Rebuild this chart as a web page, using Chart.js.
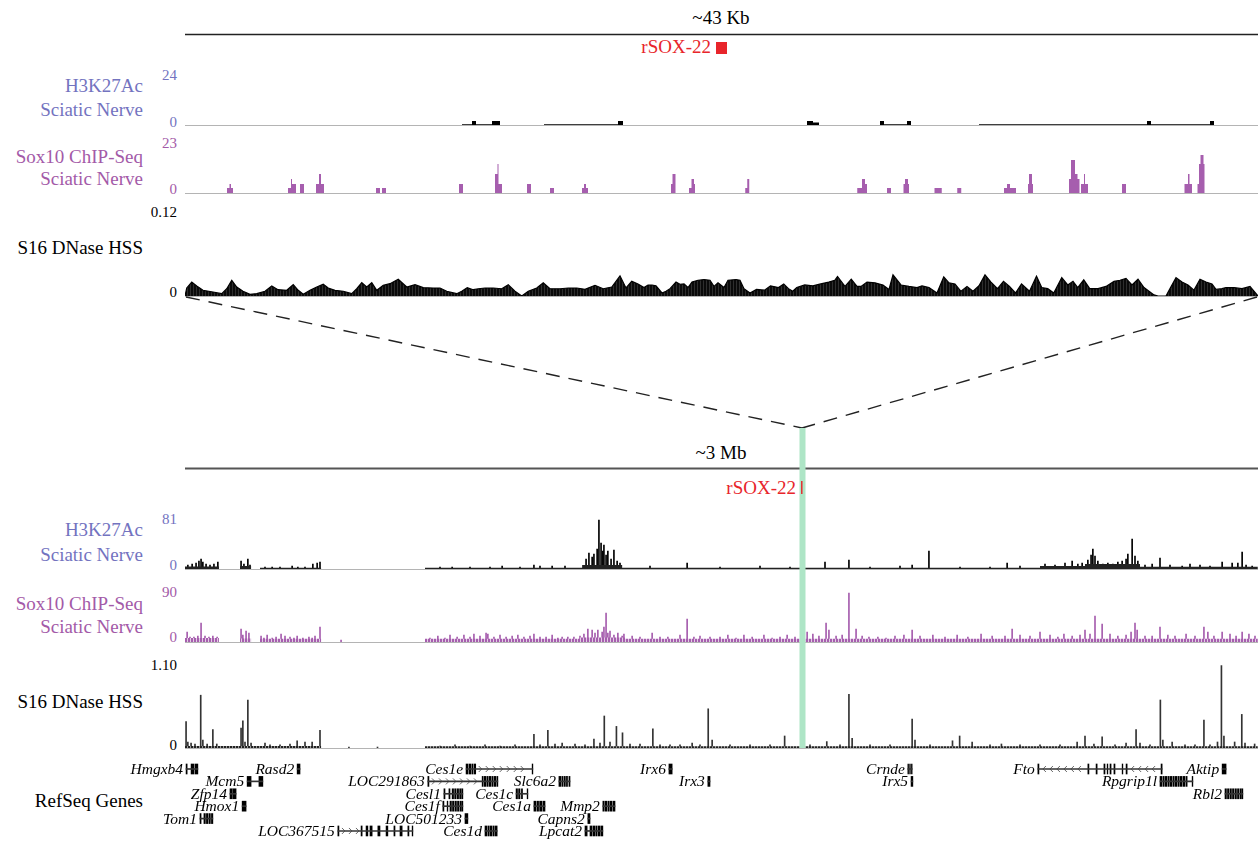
<!DOCTYPE html>
<html>
<head>
<meta charset="utf-8">
<title>rSOX-22 locus</title>
<script src="https://cdn.jsdelivr.net/npm/chart.js@4.4.1/dist/chart.umd.min.js"></script>
<style>
  body { margin: 0; background: #fff; }
  #page { position: relative; width: 1258px; height: 841px; overflow: hidden;
          font-family: "Liberation Serif", "DejaVu Serif", serif; color: #000; }
  .lbl { position: absolute; left: 0; width: 143px; text-align: right; font-size: 19px; line-height: 22px; white-space: nowrap; }
  .tick { position: absolute; left: 0; width: 177px; text-align: right; font-size: 15px; line-height: 18px; }
  .center { position: absolute; left: 521px; width: 400px; text-align: center; font-size: 19px; line-height: 22px; }
  .red { position: absolute; left: 0; text-align: right; font-size: 19px; line-height: 22px; color: #e8252b; }
  .blue { color: #7373bf; }
  .purple { color: #a35aa8; }
  .base { position: absolute; left: 185px; width: 1073px; height: 1px; background: #b4b4b4; }
  canvas { position: absolute; z-index: 1; }
  #overlay { position: absolute; left: 0; top: 0; z-index: 2; }
  #rsoxLocus { z-index: 3; }
</style>
</head>
<body>
<div id="page">
  <div class="center" style="top:7px">~43 Kb</div>
  <div class="red" style="width:711px;top:36px">rSOX-22</div>

  <div class="lbl blue" style="top:75px">H3K27Ac</div>
  <div class="lbl blue" style="top:99px">Sciatic Nerve</div>
  <div class="tick blue" style="top:66px">24</div>
  <div class="tick blue" style="top:113px">0</div>

  <div class="lbl purple" style="top:146px">Sox10 ChIP-Seq</div>
  <div class="lbl purple" style="top:168px">Sciatic Nerve</div>
  <div class="tick purple" style="top:134px">23</div>
  <div class="tick purple" style="top:180px">0</div>

  <div class="tick" style="top:203px">0.12</div>
  <div class="lbl" style="top:237px">S16 DNase HSS</div>
  <div class="tick" style="top:283px">0</div>

  <div class="center" style="top:442px">~3 Mb</div>
  <div class="red" style="width:796px;top:477px">rSOX-22</div>

  <div class="lbl blue" style="top:519px">H3K27Ac</div>
  <div class="lbl blue" style="top:544px">Sciatic Nerve</div>
  <div class="tick blue" style="top:510px">81</div>
  <div class="tick blue" style="top:556px">0</div>

  <div class="lbl purple" style="top:593px">Sox10 ChIP-Seq</div>
  <div class="lbl purple" style="top:616px">Sciatic Nerve</div>
  <div class="tick purple" style="top:583px">90</div>
  <div class="tick purple" style="top:628px">0</div>

  <div class="tick" style="top:656px">1.10</div>
  <div class="lbl" style="top:691px">S16 DNase HSS</div>
  <div class="tick" style="top:736px">0</div>

  <div class="lbl" style="top:790px">RefSeq Genes</div>

  <div class="base" style="top:125px"></div>
  <div class="base" style="top:193px"></div>
  <div class="base" style="top:296px"></div>
  <div class="base" style="top:569px"></div>
  <div class="base" style="top:642px"></div>
  <div class="base" style="top:748px"></div>

  <canvas id="rsoxTop" width="1073" height="12" style="left:185px;top:42px"></canvas>
  <canvas id="h3Top" width="1073" height="55" style="left:185px;top:70px"></canvas>
  <canvas id="soxTop" width="1073" height="55" style="left:185px;top:138px"></canvas>
  <canvas id="dnaseTop" width="1073" height="90" style="left:185px;top:206px"></canvas>
  <canvas id="rsoxLocus" width="1073" height="13" style="left:185px;top:481px"></canvas>
  <canvas id="h3Locus" width="1073" height="55" style="left:185px;top:514px"></canvas>
  <canvas id="soxLocus" width="1073" height="55" style="left:185px;top:587px"></canvas>
  <canvas id="dnaseLocus" width="1073" height="88" style="left:185px;top:660px"></canvas>
  <canvas id="genes" width="1258" height="86" style="left:0;top:755px"></canvas>

  <svg id="overlay" width="1258" height="841">
    <line x1="185" y1="34.5" x2="1258" y2="34.5" stroke="#222" stroke-width="1.6"/>
    <line x1="185" y1="468.5" x2="1258" y2="468.5" stroke="#555" stroke-width="2"/>
    <line x1="186" y1="297" x2="802" y2="428" stroke="#222" stroke-width="1.4" stroke-dasharray="14 9"/>
    <line x1="1257" y1="297" x2="802" y2="428" stroke="#222" stroke-width="1.4" stroke-dasharray="14 9"/>
    <rect x="799.5" y="428" width="6" height="320" fill="#aee5c6"/>
  </svg>
</div>

<script>
// window widths, in kb
const ZOOM_SPAN_KB = 42.92;
const LOCUS_SPAN_KB = 3004.4;

// rSOX-22 element: [kb, on/off] steps
const rsoxZoom = [[0, 0], [21.24, 1], [21.68, 0], [42.92, 0]];
const rsoxLocus = [[0, 0], [1725, 1], [1729, 0], [3004.4, 0]];

// ~43 Kb window, step signals: [start kb, value] held until the next start
const h3Zoom = [
  [0, 0], [11.08, 0.35], [11.48, 1.7], [11.64, 0.35], [12.28, 1.7], [12.6, 0],
  [14.36, 0.35], [17.32, 1.7], [17.52, 0], [24.88, 1.7], [25.12, 1.1], [25.36, 0],
  [27.8, 1.7], [27.96, 0.35], [28.88, 1.7], [29.04, 0], [31.76, 0.35], [38.48, 1.7],
  [38.64, 0.35], [41.0, 1.7], [41.16, 0], [42.92, 0]
];

const sox10Zoom = [
  [0, 0],
  [1.68, 2.1], [1.78, 3.8], [1.84, 2.1], [1.92, 0],
  [4.12, 2.1], [4.24, 5.9], [4.28, 3.8], [4.44, 0],
  [4.6, 3.8], [4.76, 0],
  [5.24, 3.8], [5.36, 7.9], [5.44, 3.8], [5.56, 0],
  [7.64, 2.1], [7.8, 0], [7.88, 2.1], [8.04, 0],
  [10.96, 3.8], [11.12, 0],
  [12.4, 7.9], [12.5, 12.1], [12.54, 3.8], [12.68, 0],
  [13.68, 3.8], [13.84, 0],
  [14.6, 2.1], [14.76, 0],
  [15.88, 2.1], [15.96, 3.8], [16.04, 2.1], [16.12, 0],
  [19.44, 3.8], [19.5, 7.9], [19.62, 0],
  [20.16, 2.1], [20.26, 5.9], [20.36, 3.8], [20.4, 0],
  [22.41, 2.1], [22.49, 5.9], [22.57, 0],
  [26.89, 2.1], [27.08, 5.9], [27.2, 3.8], [27.28, 0],
  [28.08, 2.1], [28.24, 0],
  [28.74, 3.8], [28.8, 5.9], [28.92, 3.8], [28.96, 0],
  [29.98, 2.1], [30.27, 0],
  [30.89, 2.1], [31.05, 0],
  [32.76, 2.1], [32.88, 3.8], [33.0, 2.1], [33.24, 0],
  [33.72, 3.8], [33.76, 7.9], [33.88, 3.8], [33.92, 0],
  [35.36, 5.9], [35.44, 13.8], [35.6, 7.9], [35.7, 5.9], [35.78, 0],
  [35.84, 3.8], [35.96, 7.9], [36.0, 3.8], [36.12, 0],
  [37.48, 3.8], [37.64, 0],
  [39.98, 3.8], [40.12, 7.9], [40.18, 3.8], [40.28, 0],
  [40.5, 3.8], [40.56, 12.1], [40.62, 15.9], [40.74, 12.1], [40.78, 0],
  [42.92, 0]
];

// DNase profile over the ~43 Kb window: [kb, signal]
const dnaseZoom = [
  [0, 0], [0.07, 0.0107], [0.27, 0.0187], [0.47, 0.0133], [0.72, 0.0076], [1.12, 0.0053], [1.47, 0.0031], [1.67, 0.0097], [1.87, 0.0209], [2.07, 0.012],
  [2.32, 0.0063], [2.6, 0.0023], [2.87, 0.0031], [3.2, 0.0063], [3.47, 0.0133], [3.72, 0.0084], [4.07, 0.0076], [4.33, 0.0151], [4.53, 0.0076], [4.73, 0.0023],
  [5.0, 0.0076], [5.27, 0.012], [5.53, 0.0156], [5.73, 0.0107], [6.0, 0.0076], [6.33, 0.0063], [6.67, 0.0031], [6.87, 0.0097], [7.07, 0.0177], [7.27, 0.012],
  [7.47, 0.0177], [7.67, 0.0076], [7.93, 0.0143], [8.2, 0.0164], [8.53, 0.0223], [8.87, 0.012], [9.2, 0.0151], [9.53, 0.0111], [9.93, 0.0107], [10.2, 0.0107],
  [10.47, 0.0063], [10.87, 0.0031], [11.07, 0.0063], [11.29, 0.0111], [11.53, 0.0084], [11.73, 0.0097], [12.0, 0.0107], [12.33, 0.0107], [12.67, 0.0097], [12.93, 0.0151],
  [13.2, 0.0063], [13.47, 0], [13.73, 0.0063], [14.07, 0.0107], [14.33, 0.0177], [14.6, 0.0097], [15.0, 0.0097], [15.33, 0.0107], [15.67, 0.0107], [16.0, 0.0089],
  [16.4, 0.0143], [16.73, 0.0097], [17.07, 0.012], [17.4, 0.0267], [17.64, 0.0107], [17.87, 0.0196], [18.12, 0.0161], [18.36, 0.0113], [18.52, 0.0147], [18.68, 0.0147],
  [18.84, 0.0136], [19.08, 0.004], [19.24, 0.0063], [19.4, 0.0098], [19.64, 0.0186], [19.8, 0.0157], [19.96, 0.0161], [20.12, 0.0113], [20.28, 0.0186], [20.52, 0.021],
  [20.76, 0.022], [21.0, 0.021], [21.16, 0.0128], [21.32, 0.0176], [21.56, 0.0113], [21.72, 0.021], [22.04, 0.022], [22.2, 0.021], [22.36, 0.0098], [22.6, 0.004],
  [22.86, 0.0088], [23.18, 0.0078], [23.42, 0.0136], [23.74, 0.0113], [23.95, 0.0161], [24.14, 0.0098], [24.31, 0.0063], [24.47, 0.0113], [24.79, 0.0147], [25.11, 0.0136],
  [25.43, 0.0161], [25.75, 0.0186], [25.99, 0.021], [26.1, 0.026], [26.4, 0.0128], [26.65, 0.0224], [26.88, 0.0128], [27.04, 0.0128], [27.28, 0.0186], [27.6, 0.0176],
  [27.92, 0.0147], [28.16, 0.0088], [28.32, 0.0283], [28.64, 0.0147], [28.96, 0.0128], [29.28, 0.0113], [29.48, 0.0136], [29.76, 0.0113], [30.08, 0.004], [30.35, 0.0254],
  [30.56, 0.0176], [30.8, 0.0161], [31.04, 0.0063], [31.28, 0.0128], [31.52, 0.0063], [31.76, 0.0136], [32.0, 0.0283], [32.24, 0.0186], [32.5, 0.0098], [32.74, 0.0195],
  [32.98, 0.0128], [33.22, 0.004], [33.46, 0.0161], [33.78, 0.0063], [34.06, 0.0264], [34.27, 0.0113], [34.51, 0.0098], [34.75, 0.004], [35.07, 0.0245], [35.31, 0.0147],
  [35.52, 0.0195], [35.71, 0.0113], [35.95, 0.0216], [36.19, 0.0098], [36.52, 0.0098], [36.84, 0.0128], [37.16, 0.0195], [37.4, 0.021], [37.64, 0.0235], [37.88, 0.0147],
  [38.12, 0.0224], [38.36, 0.0113], [38.76, 0.0015], [38.92, 0], [39.24, 0], [39.4, 0.0098], [39.64, 0.0245], [39.88, 0.0186], [40.12, 0.0147], [40.36, 0.0078],
  [40.6, 0.0224], [40.84, 0.0186], [41.08, 0.0161], [41.24, 0.0088], [41.48, 0.0098], [41.64, 0.0113], [41.96, 0.0113], [42.28, 0.0098], [42.6, 0.0128], [42.92, 0]
];

// ~3 Mb window: background levels (steps) and peaks, [kb, value]
const h3LocusFloor = [[0, 3.7], [95, 0], [154, 4.4], [185, 0], [210, 1.8], [381, 0], [672, 1.8], [1112, 5.9], [1224, 1.9], [2394, 4.4], [2520, 7.4], [2674, 3.2], [3004, 0]];
const h3LocusPeaks = [
  [8, 5.9], [20, 7.4], [31, 8.8], [39, 11.8], [45, 14.7], [50, 10.3], [59, 7.4], [70, 5.9], [81, 7.4], [92, 10.3],
  [157, 11.8], [165, 7.4], [176, 14.7], [182, 5.9], [224, 2.9], [244, 2.9], [266, 2.9], [300, 4.4], [316, 2.9], [336, 2.9],
  [358, 7.4], [370, 8.8], [378, 10.3], [714, 2.9], [748, 2.9], [798, 2.9], [854, 2.9], [888, 4.4], [938, 2.9], [977, 5.9],
  [994, 4.4], [1028, 4.4], [1064, 4.4], [1123, 14.7], [1131, 23.6], [1140, 17.7], [1145, 22.1], [1154, 29.5], [1159, 72], [1165, 38.3],
  [1170, 26.5], [1173, 35.4], [1179, 20.6], [1184, 26.5], [1193, 14.7], [1201, 28], [1210, 11.8], [1218, 8.8], [1302, 4.4], [1406, 8.8],
  [1498, 2.9], [1610, 4.4], [1694, 2.9], [1792, 10.3], [1859, 13.3], [1918, 2.9], [2002, 4.4], [2036, 5.9], [2083, 26.5], [2170, 2.9],
  [2254, 2.9], [2302, 8.8], [2338, 4.4], [2408, 7.4], [2436, 5.9], [2464, 8.8], [2484, 11.8], [2500, 7.4], [2512, 8.8], [2528, 13.3],
  [2537, 20.6], [2542, 29.5], [2548, 19.1], [2556, 11.8], [2570, 7.4], [2584, 8.8], [2598, 7.4], [2612, 10.3], [2624, 11.8], [2635, 14.7],
  [2640, 22.1], [2652, 44.2], [2660, 19.1], [2668, 11.8], [2688, 5.9], [2708, 7.4], [2730, 16.2], [2758, 5.9], [2792, 4.4], [2814, 7.4],
  [2842, 5.9], [2870, 4.4], [2904, 10.3], [2932, 8.8], [2948, 8.8], [2960, 25], [2971, 5.9], [2988, 4.4]
];

const sox10LocusFloor = [[0, 6.5], [95, 0], [154, 5.7], [185, 0], [210, 5.2], [381, 0], [672, 5.2], [1106, 7.4], [1232, 5.2], [3004, 0]];
const sox10LocusPeaks = [
  [6, 16.4], [14, 8.2], [25, 8.2], [36, 9.8], [45, 31.1], [56, 9.8], [67, 8.2], [78, 9.8], [90, 8.2], [157, 21.3],
  [162, 11.5], [171, 18], [179, 14.7], [213, 9.8], [221, 6.5], [230, 11.5], [244, 6.5], [255, 8.2], [269, 13.1], [280, 9.8],
  [294, 8.2], [305, 6.5], [314, 9.8], [330, 6.5], [347, 8.2], [356, 6.5], [364, 9.8], [378, 24.5], [437, 3.3], [686, 6.5],
  [708, 9.8], [728, 6.5], [742, 11.5], [762, 8.2], [781, 11.5], [798, 8.2], [809, 13.1], [826, 9.8], [843, 14.7], [848, 13.1],
  [865, 8.2], [882, 11.5], [899, 8.2], [916, 9.8], [932, 11.5], [949, 8.2], [966, 9.8], [977, 13.1], [994, 8.2], [1011, 8.2],
  [1028, 11.5], [1044, 6.5], [1056, 8.2], [1072, 8.2], [1089, 8.2], [1106, 9.8], [1117, 13.1], [1128, 21.3], [1140, 19.6], [1148, 14.7],
  [1156, 19.6], [1168, 16.4], [1173, 24.5], [1179, 47.4], [1184, 14.7], [1190, 18], [1201, 11.5], [1212, 14.7], [1224, 9.8], [1229, 13.1],
  [1252, 9.8], [1274, 8.2], [1308, 14.7], [1330, 8.2], [1352, 8.2], [1386, 11.5], [1406, 37.6], [1425, 8.2], [1442, 9.8], [1470, 8.2],
  [1498, 8.2], [1520, 11.5], [1543, 6.5], [1565, 11.5], [1588, 8.2], [1621, 11.5], [1644, 6.5], [1666, 8.2], [1686, 11.5], [1708, 8.2],
  [1742, 16.4], [1758, 13.1], [1775, 9.8], [1795, 31.1], [1803, 19.6], [1823, 9.8], [1840, 11.5], [1859, 80], [1879, 21.3], [1896, 9.8],
  [1915, 8.2], [1940, 8.2], [1963, 6.5], [1988, 9.8], [2013, 11.5], [2036, 19.6], [2058, 9.8], [2094, 11.5], [2128, 8.2], [2162, 11.5],
  [2192, 8.2], [2229, 13.1], [2260, 9.8], [2296, 9.8], [2316, 21.3], [2338, 11.5], [2366, 9.8], [2394, 16.4], [2422, 11.5], [2444, 8.2],
  [2461, 13.1], [2484, 9.8], [2506, 11.5], [2520, 19.6], [2534, 13.1], [2548, 42.5], [2568, 29.5], [2590, 13.1], [2612, 9.8], [2635, 11.5],
  [2649, 16.4], [2660, 31.1], [2666, 19.6], [2688, 9.8], [2708, 9.8], [2730, 24.5], [2752, 11.5], [2772, 9.8], [2803, 13.1], [2828, 9.8],
  [2853, 24.5], [2864, 16.4], [2881, 9.8], [2904, 16.4], [2926, 13.1], [2943, 9.8], [2960, 16.4], [2979, 13.1], [2996, 9.8]
];

const dnaseLocusFloor = [[0, 0.025], [381, 0], [672, 0.022], [3004, 0]];
const dnaseLocusPeaks = [
  [3, 0.33], [8, 0.075], [17, 0.06], [28, 0.05], [44, 0.66], [50, 0.1], [62, 0.05], [78, 0.23], [89, 0.05], [157, 0.25],
  [162, 0.34], [168, 0.075], [176, 0.6], [185, 0.06], [224, 0.06], [238, 0.04], [266, 0.04], [294, 0.05], [314, 0.09], [336, 0.075],
  [356, 0.075], [378, 0.22], [459, 0.012], [539, 0.012], [714, 0.025], [756, 0.04], [798, 0.025], [840, 0.04], [882, 0.025], [924, 0.04],
  [977, 0.17], [994, 0.04], [1016, 0.22], [1036, 0.05], [1056, 0.06], [1092, 0.05], [1120, 0.04], [1145, 0.11], [1162, 0.06], [1174, 0.4],
  [1190, 0.075], [1208, 0.27], [1225, 0.19], [1246, 0.05], [1274, 0.05], [1310, 0.24], [1330, 0.04], [1358, 0.04], [1386, 0.04], [1420, 0.06],
  [1442, 0.04], [1465, 0.49], [1476, 0.1], [1526, 0.04], [1582, 0.04], [1638, 0.04], [1679, 0.15], [1750, 0.04], [1797, 0.08], [1834, 0.04],
  [1859, 0.67], [1868, 0.12], [1918, 0.04], [1974, 0.04], [2036, 0.36], [2044, 0.1], [2086, 0.04], [2149, 0.09], [2169, 0.15], [2204, 0.075],
  [2254, 0.04], [2286, 0.05], [2338, 0.04], [2394, 0.04], [2450, 0.04], [2498, 0.075], [2520, 0.15], [2545, 0.05], [2568, 0.14], [2604, 0.04],
  [2635, 0.06], [2663, 0.23], [2674, 0.06], [2702, 0.04], [2731, 0.6], [2738, 0.1], [2764, 0.075], [2800, 0.04], [2828, 0.04], [2853, 0.35],
  [2870, 0.04], [2891, 0.075], [2902, 1.03], [2909, 0.15], [2939, 0.075], [2959, 0.42], [2968, 0.06], [2995, 0.05]
];

// RefSeq genes: name, display row, strand ('' = not drawn), exons [start kb, end kb]
const geneNames = ['Hmgxb4', 'Rasd2', 'Ces1e', 'Irx6', 'Crnde', 'Fto', 'Aktip',
  'Mcm5', 'LOC291863', 'Slc6a2', 'Irx3', 'Irx5', 'Rpgrip1l',
  'Zfp14', 'Cesl1', 'Ces1c', 'Rbl2',
  'Hmox1', 'Ces1f', 'Ces1a', 'Mmp2',
  'Tom1', 'LOC501233', 'Capns2',
  'LOC367515', 'Ces1d', 'Lpcat2'];
const geneRows = [0, 0, 0, 0, 0, 0, 0, 1, 1, 1, 1, 1, 1, 2, 2, 2, 2, 3, 3, 3, 3, 4, 4, 4, 5, 5, 5];
const geneStrand = ['', '', '+', '', '', '-', '', '+', '+', '', '', '', '', '', '+', '', '', '', '+', '', '', '', '', '', '+', '', ''];
const geneExons = [
  [[3, 6], [17, 25], [28, 36]],
  [[314, 322]],
  [[787, 792], [795, 800], [803, 806], [809, 814], [972, 974]],
  [[1355, 1364]],
  [[2024, 2026], [2029, 2031], [2034, 2036]],
  [[2388, 2391], [2528, 2531], [2551, 2554], [2573, 2576], [2582, 2584], [2590, 2593], [2601, 2604], [2624, 2626], [2635, 2638], [2733, 2736]],
  [[2904, 2915]],
  [[174, 185], [207, 218]],
  [[680, 683], [832, 835], [838, 842], [845, 849], [852, 856], [859, 863], [866, 870], [873, 876]],
  [[1047, 1052], [1055, 1058], [1061, 1065], [1068, 1071], [1075, 1078]],
  [[1464, 1470]],
  [[2033, 2038]],
  [[2730, 2735], [2738, 2742], [2745, 2749], [2752, 2756], [2759, 2763], [2766, 2770], [2773, 2777], [2780, 2784], [2787, 2792], [2795, 2800], [2803, 2806], [2820, 2822]],
  [[126, 132], [134, 143]],
  [[725, 728], [739, 742], [748, 752], [755, 759], [762, 766], [769, 773], [775, 778]],
  [[927, 931], [934, 938], [942, 945], [958, 960]],
  [[2912, 2916], [2919, 2923], [2926, 2930], [2933, 2937], [2940, 2944], [2947, 2951], [2954, 2958], [2960, 2962]],
  [[160, 171]],
  [[722, 725], [734, 736], [742, 746], [749, 753], [756, 760], [763, 767], [770, 774], [776, 778]],
  [[977, 983], [986, 990], [993, 999], [1002, 1008]],
  [[1170, 1174], [1177, 1181], [1184, 1188], [1191, 1195], [1198, 1204]],
  [[42, 45], [53, 57], [60, 64], [67, 71], [74, 78]],
  [[784, 792]],
  [[1128, 1134]],
  [[428, 431], [493, 496], [507, 512], [518, 524], [540, 546], [563, 568], [585, 588], [602, 608], [624, 627], [636, 638]],
  [[840, 845], [848, 852], [855, 859], [862, 866], [869, 874]],
  [[1120, 1126], [1134, 1140], [1143, 1147], [1150, 1154], [1157, 1161], [1164, 1170]]
];

const BLACK = '#000';
const PURPLE = '#a65eae';
const RED = '#e8252b';

const points = rows => rows.map(([x, y]) => ({ x, y }));

function stepArea(rows, color) {
  return { type: 'line', data: points(rows), stepped: true, fill: 'origin',
           backgroundColor: color, borderColor: 'rgba(0,0,0,0)', borderWidth: 0, pointRadius: 0 };
}

function peaks(rows, color) {
  return { type: 'bar', data: points(rows), backgroundColor: color, barThickness: 1, grouped: false };
}

// vertical comb fill, like densely binned signal
function comb(dark, light) {
  const c = document.createElement('canvas');
  c.width = 3; c.height = 1;
  const g = c.getContext('2d');
  g.fillStyle = dark; g.fillRect(0, 0, 3, 1);
  g.fillStyle = light; g.fillRect(2, 0, 1, 1);
  return g.createPattern(c, 'repeat');
}

function track(id, spanKb, maxVal, datasets) {
  return new Chart(document.getElementById(id), {
    type: 'bar',
    data: { datasets },
    options: {
      responsive: false, animation: false, events: [],
      layout: { padding: 0 },
      plugins: { legend: { display: false }, tooltip: { enabled: false } },
      scales: {
        x: { type: 'linear', min: 0, max: spanKb, offset: false, display: false },
        y: { type: 'linear', min: 0, max: maxVal, display: false }
      }
    }
  });
}

track('rsoxTop', ZOOM_SPAN_KB, 1, [stepArea(rsoxZoom, RED)]);
track('h3Top', ZOOM_SPAN_KB, 24, [stepArea(h3Zoom, BLACK)]);
track('soxTop', ZOOM_SPAN_KB, 23, [stepArea(sox10Zoom, PURPLE)]);
track('dnaseTop', ZOOM_SPAN_KB, 0.12, [{
  type: 'line', data: points(dnaseZoom), fill: 'origin', tension: 0,
  backgroundColor: comb('#0a0a0a', '#2e2e2e'), borderColor: BLACK, borderWidth: 1.2, pointRadius: 0
}]);

track('rsoxLocus', LOCUS_SPAN_KB, 1, [stepArea(rsoxLocus, RED)]);
track('h3Locus', LOCUS_SPAN_KB, 81, [stepArea(h3LocusFloor, '#222'), peaks(h3LocusPeaks, BLACK)]);
track('soxLocus', LOCUS_SPAN_KB, 90, [stepArea(sox10LocusFloor, comb('#a65eae', '#e2cde4')), peaks(sox10LocusPeaks, PURPLE)]);
track('dnaseLocus', LOCUS_SPAN_KB, 1.10, [stepArea(dnaseLocusFloor, comb('#222', '#999')), peaks(dnaseLocusPeaks, '#333')]);

// gene names to the left of each gene, strand chevrons along the introns
const geneDecor = {
  id: 'geneDecor',
  afterDatasetsDraw(chart) {
    const { ctx, scales: { x, y } } = chart;
    ctx.save();
    ctx.font = 'italic 15.5px "Liberation Serif", serif';
    ctx.textAlign = 'right';
    ctx.textBaseline = 'middle';
    ctx.fillStyle = '#000';
    ctx.strokeStyle = '#444';
    ctx.lineWidth = 0.8;
    geneNames.forEach((name, i) => {
      const ex = geneExons[i];
      const yc = y.getPixelForValue(geneRows[i]);
      ctx.fillText(name, x.getPixelForValue(ex[0][0]) - 3, yc + 1);
      if (!geneStrand[i]) return;
      const dir = geneStrand[i] === '+' ? 1 : -1;
      for (let k = 0; k < ex.length - 1; k++) {
        const a = x.getPixelForValue(ex[k][1]);
        const b = x.getPixelForValue(ex[k + 1][0]);
        for (let p = a + 5; p <= b - 3; p += 7) {
          ctx.beginPath();
          ctx.moveTo(p - 2 * dir, yc - 3);
          ctx.lineTo(p + dir, yc);
          ctx.lineTo(p - 2 * dir, yc + 3);
          ctx.stroke();
        }
      }
    });
    ctx.restore();
  }
};

const geneBodies = geneExons.map((ex, i) => ({ x: [ex[0][0], ex[ex.length - 1][1]], y: geneRows[i] }));
const exonBlocks = geneExons.flatMap((ex, i) => ex.map(e => ({ x: e, y: geneRows[i] })));

new Chart(document.getElementById('genes'), {
  type: 'bar',
  data: {
    datasets: [
      { data: geneBodies, backgroundColor: '#333', barThickness: 1, grouped: false },
      { data: exonBlocks, backgroundColor: BLACK, barThickness: 10, grouped: false }
    ]
  },
  options: {
    indexAxis: 'y',
    responsive: false, animation: false, events: [],
    layout: { padding: { left: 185, right: 0, top: 0, bottom: 0 } },
    plugins: { legend: { display: false }, tooltip: { enabled: false } },
    scales: {
      x: { type: 'linear', min: 0, max: LOCUS_SPAN_KB, offset: false, display: false },
      y: { type: 'linear', min: -1.13, max: 5.81, reverse: true, offset: false, display: false }
    }
  },
  plugins: [geneDecor]
});
</script>
</body>
</html>
